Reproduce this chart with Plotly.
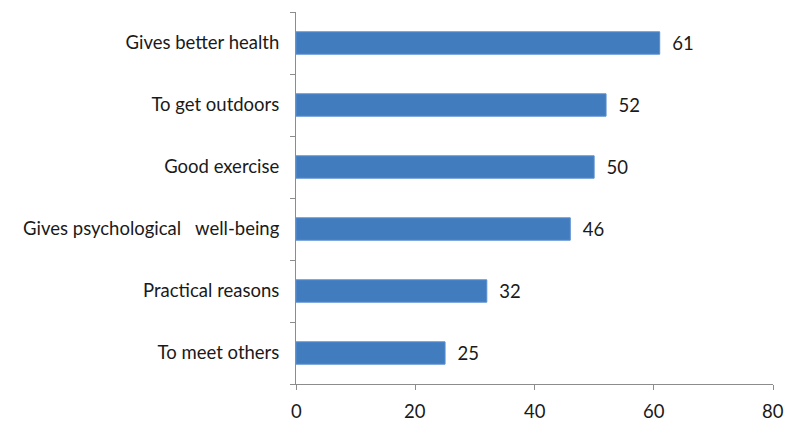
import plotly.graph_objects as go

categories = ["To meet others", "Practical reasons", "Gives psychological\u00a0\u00a0 well-being",
              "Good exercise", "To get outdoors", "Gives better health"]
values = [25, 32, 46, 50, 52, 61]
x_ticks = [0, 20, 40, 60, 80]

FONT = "Lato, Open Sans, sans-serif"
FS = 18.5

fig = go.Figure(go.Bar(
    x=values, y=categories, orientation="h",
    marker=dict(color="#417DBE", line=dict(color="#5A8ED0", width=1)),
    width=0.36,
    text=["\u00a0\u00a0" + str(v) for v in values], textposition="outside",
    textfont=dict(family=FONT, size=FS, color="#1a1a1a"),
    cliponaxis=False,
))

fig.update_layout(
    width=787, height=423,
    margin=dict(l=296, r=14, t=12, b=39),
    paper_bgcolor="white", plot_bgcolor="white",
    showlegend=False,
    font=dict(family=FONT, size=FS, color="#1a1a1a"),
)
fig.update_xaxes(
    range=[0, 80], tickvals=x_ticks, showgrid=False, zeroline=False,
    showline=True, linecolor="#8c8c8c", linewidth=1,
    ticks="outside", ticklen=5, tickcolor="#8c8c8c",
    showticklabels=False, automargin=False,
)
fig.update_yaxes(
    categoryorder="array", categoryarray=categories,
    showgrid=False, zeroline=False,
    showline=True, linecolor="#8c8c8c", linewidth=1,
    ticks="outside", ticklen=5, tickcolor="#8c8c8c", tickson="boundaries",
    ticklabelstandoff=12,
    tickfont=dict(size=FS), automargin=False,
)

# x tick labels as annotations placed through the x axis
for t in x_ticks:
    fig.add_annotation(
        x=t, xref="x", y=0, yref="paper", yanchor="top",
        text=str(t), showarrow=False, yshift=-14,
        font=dict(family=FONT, size=FS, color="#1a1a1a"),
    )

fig.write_html(
    "out.html",
    config={"displayModeBar": False},
    post_script="document.body.style.margin='0';document.body.style.overflow='hidden';",
)
